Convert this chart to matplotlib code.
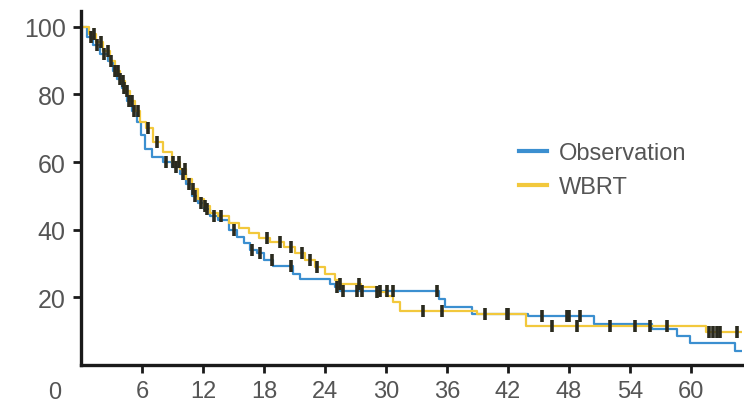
import numpy as np
import matplotlib
matplotlib.use("Agg")
from matplotlib import pyplot as plt
from matplotlib.lines import Line2D

plt.rcParams["font.family"] = ["Liberation Sans", "DejaVu Sans"]

# Kaplan-Meier step points (months, % surviving)
obs_t = [0, 0.6, 1.2, 1.9, 2.6, 3.1, 3.5, 4.0, 4.5, 5.0,
         5.5, 5.9, 6.3, 7.0, 8.1, 8.9, 9.7, 10.3, 10.9, 11.5,
         12.1, 12.7, 13.5, 14.6, 15.3, 16.0, 16.6, 17.3, 18.0, 18.9,
         20.8, 21.5, 24.5, 25.0, 25.5, 35.2, 35.8, 38.5, 44.0, 50.5,
         56.2, 58.6, 59.9, 64.3]
obs_s = [100, 97, 94.5, 92, 90, 87, 84.5, 82, 78, 75,
         72, 68, 64, 61.5, 60, 58.5, 56.5, 53.5, 50, 48,
         46, 44, 43, 40, 38, 36, 34, 33, 31, 29.3,
         27, 25.5, 24, 23, 22, 19.5, 17.2, 15.1, 14.5, 12.1,
         10.7, 8.6, 6.5, 4.1]

wbrt_t = [0, 0.8, 1.5, 2.2, 2.8, 3.3, 3.8, 4.3, 4.8, 5.3,
          5.8, 6.4, 7.1, 8.1, 8.9, 9.7, 10.3, 10.9, 11.5, 12.1,
          12.7, 13.5, 14.6, 15.5, 16.5, 17.5, 18.6, 20.0, 21.0, 22.0,
          23.0, 24.0, 25.0, 25.5, 27.5, 29.1, 30.0, 30.7, 31.4, 39.0,
          43.8, 61.5]
wbrt_s = [100, 98, 95.5, 93, 90, 87, 84, 81, 78, 75,
          72, 70, 66, 63, 60, 58, 55, 52, 49, 47,
          45, 44, 42, 40.5, 39, 37.5, 36.4, 35, 33, 31,
          29, 27, 25, 24, 23, 21.5, 20.5, 18.5, 16, 15.1,
          11.6, 9.8]

# censored observations (months)
obs_cens = [1.0, 1.6, 2.3, 2.9, 3.3, 3.8, 4.2, 4.7, 5.2, 8.4,
            9.3, 10.0, 10.6, 11.2, 11.8, 12.4, 13.1, 15.0, 16.8, 17.6,
            18.8, 20.7, 25.2, 25.8, 27.1, 27.6, 29.4, 30.1, 30.7, 35.0,
            39.7, 42.0, 45.3, 47.8, 48.0, 49.1]
wbrt_cens = [1.3, 2.0, 2.6, 3.6, 4.1, 4.5, 5.0, 5.6, 6.6, 7.5,
             9.0, 9.6, 10.2, 11.0, 12.2, 13.8, 18.3, 19.6, 20.7, 21.7,
             22.5, 23.2, 25.5, 27.3, 29.1, 33.6, 35.5, 41.9, 46.3, 48.8,
             52.0, 54.5, 56.0, 57.6, 61.8, 62.2, 62.6, 62.9, 64.5]

t_end = 65
blue = "#3b8fd0"
yellow = "#f2c83c"
dark = "#2a2a1e"


def at(times, surv, c):
    idx = np.searchsorted(times, c, side="right") - 1
    return np.array(surv)[idx]


fig = plt.figure(figsize=(7.44, 4.06), dpi=100)
ax = fig.add_axes([0.109, 0.0985, 0.888, 0.872])

ax.step(obs_t + [t_end], obs_s + [obs_s[-1]], where="post", color=blue, lw=1.6)
ax.step(wbrt_t + [t_end], wbrt_s + [wbrt_s[-1]], where="post", color=yellow, lw=1.6)

ax.plot(obs_cens, at(obs_t, obs_s, obs_cens), ls="none", marker="|",
        ms=8, mew=2.6, color=dark)
ax.plot(wbrt_cens, at(wbrt_t, wbrt_s, wbrt_cens), ls="none", marker="|",
        ms=8, mew=2.6, color=dark)

ax.set_xlim(0, t_end)
ax.set_ylim(0, 104.7)
ax.set_xticks(range(6, 61, 6))
ax.set_yticks([20, 40, 60, 80, 100])

for s in ["top", "right"]:
    ax.spines[s].set_visible(False)
for s in ["left", "bottom"]:
    ax.spines[s].set_linewidth(2.4)
    ax.spines[s].set_color("#1a1a1a")

ax.tick_params(axis="both", direction="out", length=6, width=2,
               color="#1a1a1a", labelcolor="#555555")
ax.tick_params(axis="x", pad=5, labelsize=17)
ax.tick_params(axis="y", pad=5, labelsize=18)

ax.annotate("0", xy=(0, 0), xycoords=("data", "axes fraction"),
            xytext=(-26, -27), textcoords="offset pixels",
            ha="center", va="center", fontsize=17, color="#555555")

handles = [Line2D([], [], color=blue, lw=3), Line2D([], [], color=yellow, lw=3)]
ax.legend(handles, ["Observation", "WBRT"], loc="upper left",
          bbox_to_anchor=(0.63, 0.69), frameon=False, fontsize=17,
          handlelength=1.2, handletextpad=0.5, labelspacing=0.5,
          labelcolor="#555555")

fig.savefig("out.png", dpi=100)
